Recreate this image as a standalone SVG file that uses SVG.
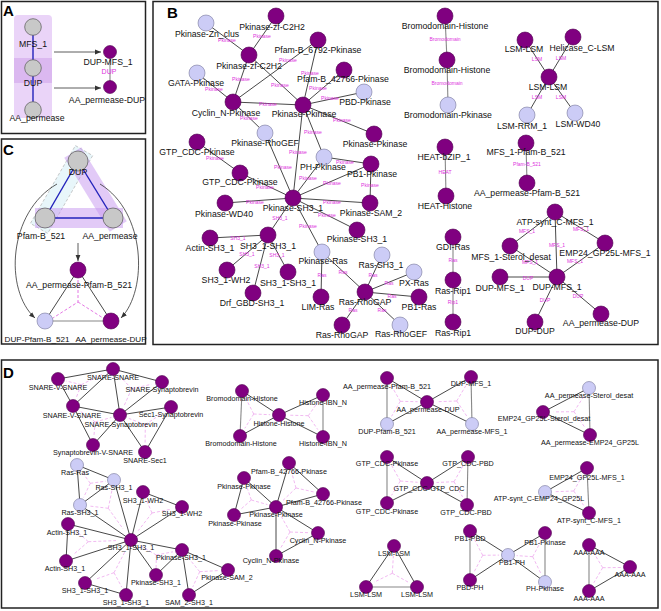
<svg xmlns="http://www.w3.org/2000/svg" width="661" height="611" viewBox="0 0 661 611">
<style>
.box{fill:none;stroke:#222;stroke-width:1.5}
.pl{font-family:"Liberation Sans",Arial,sans-serif;font-weight:bold;font-size:15px;fill:#000}
.t{font-family:"Liberation Sans",Arial,sans-serif;font-size:8.7px;text-anchor:middle;fill:#111}
.d{font-size:7.2px}
.c8{font-size:8.1px}
.el{font-family:"Liberation Sans",Arial,sans-serif;font-size:5px;text-anchor:middle;fill:#dd33dd}
.p{fill:#800080;stroke:#4d004d;stroke-width:0.6}
.l{fill:#ccccf6;stroke:#77779a;stroke-width:0.6}
.g{fill:#c8c8c8;stroke:#666;stroke-width:0.8}
.e{stroke:#333;stroke-width:0.9;fill:none}
.eg{stroke:#888;stroke-width:1.1;fill:none}
.eb{stroke:#2222bb;stroke-width:1.4;fill:none}
.y{stroke:#eea8ee;stroke-width:0.8;stroke-dasharray:3 2;fill:none}
.yc{stroke:#dd55dd;stroke-width:0.8;stroke-dasharray:3 2;fill:none}
.ar{stroke:#333;stroke-width:0.8;fill:none;marker-end:url(#arr)}
</style>
<defs>
<marker id="arr" viewBox="0 0 10 10" refX="10" refY="5" markerUnits="userSpaceOnUse" markerWidth="6" markerHeight="6" orient="auto"><path d="M0,1 L10,5 L0,9 z" fill="#333"/></marker>
</defs>
<rect width="661" height="611" fill="#fff"/>
<!-- panel frames -->
<rect class="box" x="1.5" y="1.5" width="144" height="132"/>
<rect class="box" x="1.5" y="139" width="144" height="205"/>
<rect class="box" x="153" y="1.5" width="505" height="343"/>
<rect class="box" x="1.5" y="360" width="656.5" height="248"/>
<text class="pl" x="3" y="16">A</text>
<text class="pl" x="3" y="155">C</text>
<text class="pl" x="167" y="18">B</text>
<text class="pl" x="3" y="378">D</text>

<!-- ========== PANEL A ========== -->
<g id="a-domains">
<rect x="14" y="15" width="38" height="103" rx="4" fill="#ead4f8"/>
<rect x="14" y="58" width="38" height="25" fill="#dbb8f0"/>
</g>
<g id="a-connectors">
<line class="eb" x1="33" y1="27" x2="33" y2="110"/>
<line class="ar" x1="54" y1="52" x2="101" y2="52"/>
<line class="ar" x1="54" y1="88" x2="101" y2="88"/>
<line class="eg" x1="110" y1="52" x2="110" y2="87"/>
<text class="el" style="font-size:7px" x="109" y="74">DUP</text>
</g>
<g id="a-mfs1"><circle class="g" cx="33" cy="27" r="8.3"/><text class="t" x="33" y="47">MFS_1</text></g>
<g id="a-dup"><circle class="g" cx="33" cy="68" r="8.3"/><text class="t" x="33" y="86">DUP</text></g>
<g id="a-aaperm"><circle class="g" cx="33" cy="110" r="8.3"/><text class="t" x="37" y="121">AA_permease</text></g>
<g id="a-dupmfs"><circle class="p" cx="110" cy="52" r="6.5"/><text class="t" x="108" y="65">DUP-MFS_1</text></g>
<g id="a-aadup"><circle class="p" cx="110" cy="87" r="6.5"/><text class="t" x="107" y="103">AA_permease-DUP</text></g>

<!-- ========== PANEL C ========== -->
<g id="c-domains">
<polygon points="75.4,145.6 92.7,155.6 47.7,233.4 30.4,223.4" fill="#e2f4f9" fill-opacity="0.8" stroke="#b0b0b0" stroke-width="0.7" stroke-dasharray="3 2"/>
<line x1="78" y1="161" x2="113" y2="218" stroke="#c595ef" stroke-opacity="0.5" stroke-width="20" stroke-linecap="square"/>
<line x1="45" y1="218" x2="113" y2="218" stroke="#c595ef" stroke-opacity="0.5" stroke-width="20" stroke-linecap="square"/>
</g>
<g id="c-connectors">
<line class="eb" x1="78" y1="161" x2="45" y2="218"/>
<line class="eb" x1="78" y1="161" x2="113" y2="218"/>
<line class="eb" x1="45" y1="218" x2="113" y2="218"/>
<line class="ar" x1="78" y1="243" x2="78" y2="261"/>
<path class="ar" d="M57 184 C8 212, 4 290, 35 318"/>
<path class="ar" d="M100 184 C146 212, 148 290, 121 318"/>
<line class="e" x1="78" y1="270" x2="45" y2="321"/>
<line class="e" x1="78" y1="270" x2="111" y2="321"/>
<line class="eg" x1="45" y1="321" x2="111" y2="321"/>
<path class="yc" d="M78 280 L78 302 L53 318 M78 302 L103 318"/>
</g>
<g id="c-dup"><circle class="g" cx="78" cy="161" r="10"/><text class="t" x="78" y="175">DUP</text></g>
<g id="c-pfam"><circle class="g" cx="45" cy="218" r="10"/><text class="t" x="41" y="239">Pfam-B_521</text></g>
<g id="c-aaperm"><circle class="g" cx="113" cy="218" r="10"/><text class="t" x="110" y="239">AA_permease</text></g>
<g id="c-aapfam"><circle class="p" cx="78" cy="270" r="8"/><text class="t" x="79" y="288">AA_permease-Pfam-B_521</text></g>
<g id="c-duppfam"><circle class="l" cx="45" cy="321" r="8"/><text class="t c8" x="37" y="342">DUP-Pfam-B_521</text></g>
<g id="c-aadup"><circle class="p" cx="111" cy="321" r="8"/><text class="t c8" x="111" y="342">AA_permease-DUP</text></g>

<!-- ========== PANEL B ========== -->
<g id="b-connectors">
<line class="e" x1="206" y1="23" x2="249" y2="55"/>
<line class="e" x1="276" y1="16" x2="249" y2="55"/>
<line class="e" x1="249" y1="55" x2="233" y2="102"/>
<line class="e" x1="249" y1="55" x2="303" y2="105"/>
<line class="e" x1="318" y1="40" x2="233" y2="102"/>
<line class="e" x1="318" y1="40" x2="303" y2="105"/>
<line class="e" x1="197" y1="73" x2="233" y2="102"/>
<line class="e" x1="233" y1="102" x2="303" y2="105"/>
<line class="e" x1="233" y1="102" x2="265" y2="133"/>
<line class="e" x1="303" y1="105" x2="344" y2="70"/>
<line class="e" x1="303" y1="105" x2="364" y2="92"/>
<line class="e" x1="303" y1="105" x2="374" y2="134"/>
<line class="e" x1="303" y1="105" x2="324" y2="157"/>
<line class="e" x1="303" y1="105" x2="293" y2="198"/>
<line class="e" x1="265" y1="133" x2="293" y2="198"/>
<line class="e" x1="197" y1="142" x2="240" y2="173"/>
<line class="e" x1="240" y1="173" x2="293" y2="198"/>
<line class="e" x1="293" y1="198" x2="225" y2="203"/>
<line class="e" x1="293" y1="198" x2="324" y2="157"/>
<line class="e" x1="293" y1="198" x2="371" y2="164"/>
<line class="e" x1="293" y1="198" x2="370" y2="203"/>
<line class="e" x1="293" y1="198" x2="357" y2="230"/>
<line class="e" x1="293" y1="198" x2="322" y2="252"/>
<line class="e" x1="293" y1="198" x2="268" y2="235"/>
<line class="e" x1="371" y1="164" x2="370" y2="203"/>
<line class="e" x1="324" y1="157" x2="371" y2="164"/>
<line class="e" x1="268" y1="235" x2="210" y2="238"/>
<line class="e" x1="268" y1="235" x2="227" y2="270"/>
<line class="e" x1="268" y1="235" x2="288" y2="272"/>
<line class="e" x1="268" y1="235" x2="253" y2="293"/>
<line class="e" x1="322" y1="252" x2="321" y2="297"/>
<line class="e" x1="322" y1="252" x2="365" y2="292"/>
<line class="e" x1="365" y1="292" x2="382" y2="255"/>
<line class="e" x1="365" y1="292" x2="414" y2="272"/>
<line class="e" x1="365" y1="292" x2="419" y2="297"/>
<line class="e" x1="365" y1="292" x2="400" y2="325"/>
<line class="e" x1="365" y1="292" x2="342" y2="325"/>
<line class="eg" x1="445" y1="16" x2="447" y2="60"/>
<line class="eg" x1="447" y1="60" x2="448" y2="105"/>
<line class="eg" x1="445" y1="147" x2="446" y2="196"/>
<line class="eg" x1="453" y1="237" x2="453" y2="280"/>
<line class="eg" x1="453" y1="280" x2="453" y2="322"/>
<line class="e" x1="525" y1="40" x2="549" y2="77"/>
<line class="e" x1="573" y1="37" x2="549" y2="77"/>
<line class="e" x1="549" y1="77" x2="527" y2="115"/>
<line class="e" x1="549" y1="77" x2="575" y2="113"/>
<line class="eg" x1="526" y1="143" x2="527" y2="183"/>
<line class="e" x1="555" y1="212" x2="510" y2="246"/>
<line class="e" x1="555" y1="212" x2="605" y2="243"/>
<line class="e" x1="555" y1="212" x2="557" y2="277"/>
<line class="e" x1="510" y1="246" x2="557" y2="277"/>
<line class="e" x1="605" y1="243" x2="557" y2="277"/>
<line class="e" x1="500" y1="277" x2="557" y2="277"/>
<line class="e" x1="557" y1="277" x2="535" y2="322"/>
<line class="e" x1="557" y1="277" x2="601" y2="314"/>
<!-- edge labels -->
<text class="el" x="227" y="42">Pkinase</text>
<text class="el" x="262" y="38">Pkinase</text>
<text class="el" x="241" y="81">Pkinase</text>
<text class="el" x="280" y="87">Pkinase</text>
<text class="el" x="288" y="62">Pkinase</text>
<text class="el" x="310" y="75">Pkinase</text>
<text class="el" x="214" y="91">Pkinase</text>
<text class="el" x="268" y="106">Pkinase</text>
<text class="el" x="249" y="120">Pkinase</text>
<text class="el" x="318" y="90">Pkinase</text>
<text class="el" x="330" y="100">Pkinase</text>
<text class="el" x="342" y="122">Pkinase</text>
<text class="el" x="313" y="134">Pkinase</text>
<text class="el" x="298" y="154">Pkinase</text>
<text class="el" x="283" y="169">Pkinase</text>
<text class="el" x="215" y="160">Pkinase</text>
<text class="el" x="265" y="189">Pkinase</text>
<text class="el" x="255" y="204">Pkinase</text>
<text class="el" x="308" y="180">Pkinase</text>
<text class="el" x="332" y="185">Pkinase</text>
<text class="el" x="332" y="204">Pkinase</text>
<text class="el" x="327" y="217">Pkinase</text>
<text class="el" x="308" y="228">Pkinase</text>
<text class="el" x="370" y="187">Pkinase</text>
<text class="el" x="345" y="164">Pkinase</text>
<text class="el" x="280" y="220">SH3_1</text>
<text class="el" x="238" y="240">SH3_1</text>
<text class="el" x="247" y="256">SH3_1</text>
<text class="el" x="277" y="257">SH3_1</text>
<text class="el" x="262" y="268">SH3_1</text>
<text class="el" x="322" y="277">Ras</text>
<text class="el" x="343" y="274">Ras</text>
<text class="el" x="373" y="277">Ras</text>
<text class="el" x="389" y="285">Ras</text>
<text class="el" x="392" y="298">Ras</text>
<text class="el" x="382" y="312">Ras</text>
<text class="el" x="353" y="312">Ras</text>
<text class="el" x="445" y="41">Bromodomain</text>
<text class="el" x="447" y="85">Bromodomain</text>
<text class="el" x="445" y="174">HEAT</text>
<text class="el" x="453" y="262">Ras</text>
<text class="el" x="453" y="304">Rip1</text>
<text class="el" x="537" y="61">LSM</text>
<text class="el" x="561" y="60">LSM</text>
<text class="el" x="537" y="99">LSM</text>
<text class="el" x="561" y="99">LSM</text>
<text class="el" x="527" y="166">Pfam-B_521</text>
<text class="el" x="527" y="233">MFS_1</text>
<text class="el" x="581" y="231">MFS_1</text>
<text class="el" x="557" y="247">MFS_1</text>
<text class="el" x="530" y="264">MFS_1</text>
<text class="el" x="575" y="263">MFS_1</text>
<text class="el" x="528" y="280">DUP</text>
<text class="el" x="545" y="302">DUP</text>
<text class="el" x="578" y="298">DUP</text>
</g>
<g id="b01"><circle class="l" cx="206" cy="23" r="8"/><text class="t" x="207" y="37">Pkinase-Zn_clus</text></g>
<g id="b02"><circle class="p" cx="276" cy="16" r="8"/><text class="t" x="272" y="30">Pkinase-zf-C2H2</text></g>
<g id="b03"><circle class="p" cx="249" cy="55" r="8"/><text class="t" x="249" y="69">Pkinase-zf-C2H2</text></g>
<g id="b04"><circle class="p" cx="318" cy="40" r="8"/><text class="t" x="318" y="53">Pfam-B_6792-Pkinase</text></g>
<g id="b05"><circle class="l" cx="197" cy="73" r="8"/><text class="t" x="196" y="86">GATA-Pkinase</text></g>
<g id="b06"><circle class="p" cx="233" cy="102" r="8"/><text class="t" x="226" y="116">Cyclin_N-Pkinase</text></g>
<g id="b07"><circle class="p" cx="303" cy="105" r="8"/><text class="t" x="304" y="117">Pkinase-Pkinase</text></g>
<g id="b08"><circle class="p" cx="344" cy="70" r="8"/><text class="t" x="343" y="82">Pfam-B_42766-Pkinase</text></g>
<g id="b09"><circle class="l" cx="364" cy="92" r="8"/><text class="t" x="365" y="105">PBD-Pkinase</text></g>
<g id="b10"><circle class="p" cx="374" cy="134" r="8"/><text class="t" x="375" y="147">Pkinase-Pkinase</text></g>
<g id="b11"><circle class="l" cx="265" cy="133" r="8"/><text class="t" x="265" y="146">Pkinase-RhoGEF</text></g>
<g id="b12"><circle class="p" cx="197" cy="142" r="8"/><text class="t" x="197" y="155">GTP_CDC-Pkinase</text></g>
<g id="b13"><circle class="l" cx="324" cy="157" r="8"/><text class="t" x="323" y="170">PH-Pkinase</text></g>
<g id="b14"><circle class="p" cx="371" cy="164" r="8"/><text class="t" x="372" y="177">PB1-Pkinase</text></g>
<g id="b15"><circle class="p" cx="240" cy="173" r="8"/><text class="t" x="240" y="185">GTP_CDC-Pkinase</text></g>
<g id="b16"><circle class="p" cx="293" cy="198" r="8"/><text class="t" x="293" y="211">Pkinase-SH3_1</text></g>
<g id="b17"><circle class="p" cx="225" cy="203" r="8"/><text class="t" x="224" y="217">Pkinase-WD40</text></g>
<g id="b18"><circle class="p" cx="370" cy="203" r="8"/><text class="t" x="371" y="216">Pkinase-SAM_2</text></g>
<g id="b19"><circle class="p" cx="357" cy="230" r="8"/><text class="t" x="357" y="242">Pkinase-SH3_1</text></g>
<g id="b20"><circle class="p" cx="268" cy="235" r="8"/><text class="t" x="268" y="249">SH3_1-SH3_1</text></g>
<g id="b21"><circle class="p" cx="210" cy="238" r="8"/><text class="t" x="210" y="251">Actin-SH3_1</text></g>
<g id="b22"><circle class="l" cx="322" cy="252" r="8"/><text class="t" x="323" y="264">Pkinase-Ras</text></g>
<g id="b23"><circle class="p" cx="227" cy="270" r="8"/><text class="t" x="226" y="283">SH3_1-WH2</text></g>
<g id="b24"><circle class="p" cx="288" cy="272" r="8"/><text class="t" x="288" y="286">SH3_1-SH3_1</text></g>
<g id="b25"><circle class="p" cx="253" cy="293" r="8"/><text class="t" x="252" y="306">Drf_GBD-SH3_1</text></g>
<g id="b26"><circle class="p" cx="321" cy="297" r="8"/><text class="t" x="318" y="310">LIM-Ras</text></g>
<g id="b27"><circle class="p" cx="342" cy="325" r="8"/><text class="t" x="342" y="338">Ras-RhoGAP</text></g>
<g id="b28"><circle class="p" cx="365" cy="292" r="8"/><text class="t" x="365" y="305">Ras-RhoGAP</text></g>
<g id="b29"><circle class="l" cx="382" cy="255" r="8"/><text class="t" x="381" y="268">Ras-SH3_1</text></g>
<g id="b30"><circle class="l" cx="414" cy="272" r="8"/><text class="t" x="414" y="286">PX-Ras</text></g>
<g id="b31"><circle class="p" cx="419" cy="297" r="8"/><text class="t" x="419" y="310">PB1-Ras</text></g>
<g id="b32"><circle class="l" cx="400" cy="325" r="8"/><text class="t" x="401" y="337">Ras-RhoGEF</text></g>
<g id="b33"><circle class="p" cx="445" cy="16" r="8"/><text class="t" x="445" y="29">Bromodomain-Histone</text></g>
<g id="b34"><circle class="p" cx="447" cy="60" r="8"/><text class="t" x="447" y="73">Bromodomain-Histone</text></g>
<g id="b35"><circle class="l" cx="448" cy="105" r="8"/><text class="t" x="448" y="118">Bromodomain-Pkinase</text></g>
<g id="b36"><circle class="p" cx="445" cy="147" r="8"/><text class="t" x="444" y="160">HEAT-bZIP_1</text></g>
<g id="b37"><circle class="p" cx="446" cy="196" r="8"/><text class="t" x="445" y="209">HEAT-Histone</text></g>
<g id="b38"><circle class="p" cx="525" cy="40" r="8"/><text class="t" x="524" y="52">LSM-LSM</text></g>
<g id="b39"><circle class="p" cx="573" cy="37" r="8"/><text class="t" x="582" y="51">Helicase_C-LSM</text></g>
<g id="b40"><circle class="p" cx="549" cy="77" r="8"/><text class="t" x="548" y="90">LSM-LSM</text></g>
<g id="b41"><circle class="l" cx="527" cy="115" r="8"/><text class="t" x="522" y="129">LSM-RRM_1</text></g>
<g id="b42"><circle class="l" cx="575" cy="113" r="8"/><text class="t" x="578" y="127">LSM-WD40</text></g>
<g id="b43"><circle class="p" cx="526" cy="143" r="8"/><text class="t" x="526" y="155">MFS_1-Pfam-B_521</text></g>
<g id="b44"><circle class="p" cx="527" cy="183" r="8"/><text class="t" x="527" y="196">AA_permease-Pfam-B_521</text></g>
<g id="b45"><circle class="p" cx="555" cy="212" r="8"/><text class="t" x="555" y="225">ATP-synt_C-MFS_1</text></g>
<g id="b46"><circle class="p" cx="510" cy="246" r="8"/><text class="t" x="511" y="260">MFS_1-Sterol_desat</text></g>
<g id="b47"><circle class="p" cx="605" cy="243" r="8"/><text class="t" x="605" y="256">EMP24_GP25L-MFS_1</text></g>
<g id="b48"><circle class="p" cx="500" cy="277" r="8"/><text class="t" x="500" y="291">DUP-MFS_1</text></g>
<g id="b49"><circle class="p" cx="557" cy="277" r="8"/><text class="t" x="557" y="290">DUP-MFS_1</text></g>
<g id="b50"><circle class="p" cx="535" cy="322" r="8"/><text class="t" x="535" y="334">DUP-DUP</text></g>
<g id="b51"><circle class="p" cx="601" cy="314" r="8"/><text class="t" x="601" y="326">AA_permease-DUP</text></g>
<g id="b52"><circle class="p" cx="453" cy="237" r="8"/><text class="t" x="453" y="250">GDI-Ras</text></g>
<g id="b53"><circle class="p" cx="453" cy="280" r="8"/><text class="t" x="453" y="294">Ras-Rip1</text></g>
<g id="b54"><circle class="p" cx="453" cy="322" r="8"/><text class="t" x="453" y="336">Ras-Rip1</text></g>

<!-- ========== PANEL D ========== -->
<g id="d-connectors">
<path class="y" d="M81.3 384.7L66.2 381M81.3 384.7L101.9 374.5M81.3 384.7L75.9 398.5"/>
<path class="y" d="M131.7 388.7L119.5 375.9M131.7 388.7L151.4 384.3M131.7 388.7L124.1 405.8"/>
<path class="y" d="M95.3 422L80.8 411.6M95.3 422L111.4 417.4M95.3 422L93.8 437"/>
<path class="y" d="M145.3 424.7L128.8 418.4M145.3 424.7L162.2 413.2M145.3 424.7L145.1 442.5"/>
<path class="y" d="M253.7 414L246.1 399M253.7 414L244.8 428.3M253.7 414L270.1 414.7"/>
<path class="y" d="M308.3 415.7L289.2 415.2M308.3 415.7L317.8 402.3M308.3 415.7L317.8 429.6"/>
<path class="y" d="M400.3 401.3L391.6 386.1M400.3 401.3L417.6 401.7M400.3 401.3L391.6 416.3"/>
<path class="y" d="M456.7 401L437.4 401.7M456.7 401L466 385.4M456.7 401L466.7 416"/>
<path class="y" d="M574 411.7L583.8 396.3M574 411.7L553.8 411.9M574 411.7L584.4 426.8"/>
<path class="y" d="M90.3 483.3L81.6 471.4M90.3 483.3L105.7 481.2M90.3 483.3L83.6 497.4"/>
<path class="y" d="M108.3 508.3L112 489.9M108.3 508.3L89.9 506.1M108.3 508.3L123.1 528.9"/>
<path class="y" d="M152 513L146.1 499.3M152 513L171.5 509.1M152 513L138.3 530.6"/>
<path class="y" d="M88.3 541.7L75.1 530.2M88.3 541.7L116 540.6M88.3 541.7L73.8 554.2"/>
<path class="y" d="M156.3 555L139.8 545.3M156.3 555L173 551.8M156.3 555L156.1 568"/>
<path class="y" d="M114 572.7L125.1 551.4M114 572.7L95.1 579.4M114 572.7L121.8 587.2"/>
<path class="y" d="M199.7 571.7L188.2 557.6M199.7 571.7L192.8 586.9M199.7 571.7L218.1 570.6"/>
<path class="y" d="M296 488L291.5 471.8M296 488L283 500.4M296 488L313.6 491.9"/>
<path class="y" d="M251.3 500L246.5 485.7M251.3 500L267.4 504.6M251.3 500L240.1 509.8"/>
<path class="y" d="M290 532L280.9 515.8M290 532L308.2 532.7M290 532L280.9 547.6"/>
<path class="y" d="M400.3 481L391.6 465.4M400.3 481L417.6 482.3M400.3 481L391.6 495.3"/>
<path class="y" d="M454 481.7L436.5 482.5M454 481.7L463.1 465.6M454 481.7L462.5 496.8"/>
<path class="y" d="M573.7 491L582.3 476.1M573.7 491L555.1 491.7M573.7 491L583.6 505.3"/>
<path class="y" d="M392.3 573.3L393.4 555.6M392.3 573.3L374.1 582.2M392.3 573.3L408.3 582.2"/>
<path class="y" d="M482.7 555.3L474.4 539.5M482.7 555.3L499.1 555.1M482.7 555.3L474.4 571.4"/>
<path class="y" d="M532.7 556.7L516.6 555.6M532.7 556.7L540.7 541.6M532.7 556.7L540.7 573.2"/>
<path class="y" d="M602.7 567.7L593.8 553M602.7 567.7L620.9 567.5M602.7 567.7L593.8 582.8"/>
<line class="e" x1="58" y1="379" x2="113" y2="369"/>
<line class="e" x1="58" y1="379" x2="73" y2="406"/>
<line class="e" x1="113" y1="369" x2="73" y2="406"/>
<line class="e" x1="113" y1="369" x2="162" y2="382"/>
<line class="e" x1="113" y1="369" x2="120" y2="415"/>
<line class="e" x1="162" y1="382" x2="120" y2="415"/>
<line class="e" x1="73" y1="406" x2="120" y2="415"/>
<line class="e" x1="73" y1="406" x2="93" y2="445"/>
<line class="e" x1="120" y1="415" x2="93" y2="445"/>
<line class="e" x1="120" y1="415" x2="171" y2="407"/>
<line class="e" x1="120" y1="415" x2="145" y2="452"/>
<line class="e" x1="171" y1="407" x2="145" y2="452"/>
<line class="eg" x1="242" y1="391" x2="240" y2="436"/>
<line class="e" x1="242" y1="391" x2="279" y2="415"/>
<line class="e" x1="240" y1="436" x2="279" y2="415"/>
<line class="e" x1="279" y1="415" x2="323" y2="395"/>
<line class="e" x1="279" y1="415" x2="323" y2="437"/>
<line class="eg" x1="323" y1="395" x2="323" y2="437"/>
<line class="eg" x1="387" y1="378" x2="387" y2="424"/>
<line class="e" x1="387" y1="378" x2="427" y2="402"/>
<line class="e" x1="387" y1="424" x2="427" y2="402"/>
<line class="e" x1="427" y1="402" x2="471" y2="377"/>
<line class="e" x1="427" y1="402" x2="472" y2="424"/>
<line class="eg" x1="471" y1="377" x2="472" y2="424"/>
<line class="e" x1="589" y1="388" x2="543" y2="412"/>
<line class="eg" x1="589" y1="388" x2="590" y2="435"/>
<line class="e" x1="543" y1="412" x2="590" y2="435"/>
<line class="e" x1="77" y1="465" x2="114" y2="480"/>
<line class="e" x1="77" y1="465" x2="80" y2="505"/>
<line class="e" x1="114" y1="480" x2="80" y2="505"/>
<line class="e" x1="114" y1="480" x2="131" y2="540"/>
<line class="e" x1="80" y1="505" x2="131" y2="540"/>
<line class="e" x1="143" y1="492" x2="182" y2="507"/>
<line class="e" x1="143" y1="492" x2="131" y2="540"/>
<line class="e" x1="182" y1="507" x2="131" y2="540"/>
<line class="e" x1="68" y1="524" x2="131" y2="540"/>
<line class="e" x1="68" y1="524" x2="66" y2="561"/>
<line class="e" x1="66" y1="561" x2="131" y2="540"/>
<line class="e" x1="131" y1="540" x2="182" y2="550"/>
<line class="e" x1="131" y1="540" x2="156" y2="575"/>
<line class="e" x1="182" y1="550" x2="156" y2="575"/>
<line class="e" x1="131" y1="540" x2="85" y2="583"/>
<line class="e" x1="131" y1="540" x2="126" y2="595"/>
<line class="e" x1="85" y1="583" x2="126" y2="595"/>
<line class="e" x1="182" y1="550" x2="189" y2="595"/>
<line class="e" x1="182" y1="550" x2="228" y2="570"/>
<line class="e" x1="189" y1="595" x2="228" y2="570"/>
<line class="e" x1="289" y1="463" x2="276" y2="507"/>
<line class="e" x1="289" y1="463" x2="323" y2="494"/>
<line class="e" x1="323" y1="494" x2="276" y2="507"/>
<line class="e" x1="244" y1="478" x2="276" y2="507"/>
<line class="e" x1="244" y1="478" x2="234" y2="515"/>
<line class="e" x1="234" y1="515" x2="276" y2="507"/>
<line class="e" x1="276" y1="507" x2="318" y2="533"/>
<line class="e" x1="276" y1="507" x2="276" y2="556"/>
<line class="e" x1="318" y1="533" x2="276" y2="556"/>
<line class="eg" x1="387" y1="457" x2="387" y2="503"/>
<line class="e" x1="387" y1="457" x2="427" y2="483"/>
<line class="e" x1="387" y1="503" x2="427" y2="483"/>
<line class="e" x1="427" y1="483" x2="468" y2="457"/>
<line class="e" x1="427" y1="483" x2="467" y2="505"/>
<line class="eg" x1="468" y1="457" x2="467" y2="505"/>
<line class="e" x1="587" y1="468" x2="545" y2="492"/>
<line class="eg" x1="587" y1="468" x2="589" y2="513"/>
<line class="e" x1="545" y1="492" x2="589" y2="513"/>
<line class="e" x1="394" y1="546" x2="366" y2="587"/>
<line class="e" x1="394" y1="546" x2="417" y2="587"/>
<line class="eg" x1="366" y1="587" x2="417" y2="587"/>
<line class="eg" x1="470" y1="531" x2="470" y2="580"/>
<line class="e" x1="470" y1="531" x2="508" y2="555"/>
<line class="e" x1="470" y1="580" x2="508" y2="555"/>
<line class="e" x1="508" y1="555" x2="545" y2="533"/>
<line class="e" x1="508" y1="555" x2="545" y2="582"/>
<line class="eg" x1="545" y1="533" x2="545" y2="582"/>
<line class="e" x1="589" y1="545" x2="630" y2="567"/>
<line class="eg" x1="589" y1="545" x2="589" y2="591"/>
<line class="e" x1="630" y1="567" x2="589" y2="591"/>
</g>
<g id="d-s1"><circle class="p" cx="58" cy="379" r="6.5"/><text class="t d" x="58" y="390">SNARE-V-SNARE</text></g>
<g id="d-s2"><circle class="p" cx="113" cy="369" r="6.5"/><text class="t d" x="113" y="380">SNARE-SNARE</text></g>
<g id="d-s3"><circle class="p" cx="162" cy="382" r="6.5"/><text class="t d" x="162" y="392">SNARE-Synaptobrevin</text></g>
<g id="d-s4"><circle class="p" cx="73" cy="406" r="6.5"/><text class="t d" x="72" y="418">SNARE-V-SNARE</text></g>
<g id="d-s5"><circle class="p" cx="120" cy="415" r="6.5"/><text class="t d" x="121" y="427">SNARE-Synaptobrevin</text></g>
<g id="d-s6"><circle class="p" cx="171" cy="407" r="6.5"/><text class="t d" x="171" y="417">Sec1-Synaptobrevin</text></g>
<g id="d-s7"><circle class="p" cx="93" cy="445" r="6.5"/><text class="t d" x="93" y="455">Synaptobrevin-V-SNARE</text></g>
<g id="d-s8"><circle class="p" cx="145" cy="452" r="6.5"/><text class="t d" x="145" y="463">SNARE-Sec1</text></g>
<g id="d-h1"><circle class="p" cx="242" cy="391" r="6.5"/><text class="t d" x="242" y="401">Bromodomain-Histone</text></g>
<g id="d-h2"><circle class="p" cx="240" cy="436" r="6.5"/><text class="t d" x="241" y="446">Bromodomain-Histone</text></g>
<g id="d-h3"><circle class="p" cx="279" cy="415" r="6.5"/><text class="t d" x="279" y="426">Histone-Histone</text></g>
<g id="d-h4"><circle class="p" cx="323" cy="395" r="6.5"/><text class="t d" x="323" y="405">Histone-IBN_N</text></g>
<g id="d-h5"><circle class="p" cx="323" cy="437" r="6.5"/><text class="t d" x="323" y="446">Histone-IBN_N</text></g>
<g id="d-a1"><circle class="p" cx="387" cy="378" r="6.5"/><text class="t d" x="387" y="389">AA_permease-Pfam-B_521</text></g>
<g id="d-a2"><circle class="p" cx="427" cy="402" r="6.5"/><text class="t d" x="428" y="412">AA_permease-DUP</text></g>
<g id="d-a3"><circle class="l" cx="387" cy="424" r="6.5"/><text class="t d" x="387" y="434">DUP-Pfam-B_521</text></g>
<g id="d-a4"><circle class="p" cx="471" cy="377" r="6.5"/><text class="t d" x="471" y="386">DUP-MFS_1</text></g>
<g id="d-a5"><circle class="l" cx="472" cy="424" r="6.5"/><text class="t d" x="472" y="434">AA_permease-MFS_1</text></g>
<g id="d-t1"><circle class="l" cx="589" cy="388" r="6.5"/><text class="t d" x="589" y="398">AA_permease-Sterol_desat</text></g>
<g id="d-t2"><circle class="p" cx="543" cy="412" r="6.5"/><text class="t d" x="544" y="421">EMP24_GP25L-Sterol_desat</text></g>
<g id="d-t3"><circle class="p" cx="590" cy="435" r="6.5"/><text class="t d" x="590" y="445">AA_permease-EMP24_GP25L</text></g>
<g id="d-r1"><circle class="l" cx="77" cy="465" r="6.5"/><text class="t d" x="75" y="475">Ras-Ras</text></g>
<g id="d-r2"><circle class="l" cx="114" cy="480" r="6.5"/><text class="t d" x="114" y="490">Ras-SH3_1</text></g>
<g id="d-r3"><circle class="l" cx="80" cy="505" r="6.5"/><text class="t d" x="80" y="515">Ras-SH3_1</text></g>
<g id="d-r4"><circle class="p" cx="143" cy="492" r="6.5"/><text class="t d" x="143" y="503">SH3_1-WH2</text></g>
<g id="d-r5"><circle class="p" cx="182" cy="507" r="6.5"/><text class="t d" x="182" y="516">SH3_1-WH2</text></g>
<g id="d-r6"><circle class="p" cx="68" cy="524" r="6.5"/><text class="t d" x="67" y="535">Actin-SH3_1</text></g>
<g id="d-r7"><circle class="p" cx="131" cy="540" r="6.5"/><text class="t d" x="131" y="550">SH3_1-SH3_1</text></g>
<g id="d-r8"><circle class="p" cx="66" cy="561" r="6.5"/><text class="t d" x="65" y="571">Actin-SH3_1</text></g>
<g id="d-r9"><circle class="p" cx="182" cy="550" r="6.5"/><text class="t d" x="181" y="560">Pkinase-SH3_1</text></g>
<g id="d-r10"><circle class="p" cx="156" cy="575" r="6.5"/><text class="t d" x="156" y="585">Pkinase-SH3_1</text></g>
<g id="d-r11"><circle class="p" cx="85" cy="583" r="6.5"/><text class="t d" x="85" y="593">SH3_1-SH3_1</text></g>
<g id="d-r12"><circle class="p" cx="126" cy="595" r="6.5"/><text class="t d" x="126" y="605">SH3_1-SH3_1</text></g>
<g id="d-r13"><circle class="p" cx="189" cy="595" r="6.5"/><text class="t d" x="189" y="605">SAM_2-SH3_1</text></g>
<g id="d-r14"><circle class="p" cx="228" cy="570" r="6.5"/><text class="t d" x="227" y="580">Pkinase-SAM_2</text></g>
<g id="d-k1"><circle class="p" cx="289" cy="463" r="6.5"/><text class="t d" x="289" y="474">Pfam-B_42766-Pkinase</text></g>
<g id="d-k2"><circle class="p" cx="244" cy="478" r="6.5"/><text class="t d" x="244" y="489">Pkinase-Pkinase</text></g>
<g id="d-k3"><circle class="p" cx="276" cy="507" r="6.5"/><text class="t d" x="276" y="517">Pkinase-Pkinase</text></g>
<g id="d-k4"><circle class="p" cx="234" cy="515" r="6.5"/><text class="t d" x="235" y="526">Pkinase-Pkinase</text></g>
<g id="d-k5"><circle class="p" cx="323" cy="494" r="6.5"/><text class="t d" x="324" y="505">Pfam-B_42766-Pkinase</text></g>
<g id="d-k6"><circle class="p" cx="318" cy="533" r="6.5"/><text class="t d" x="318" y="543">Cyclin_N-Pkinase</text></g>
<g id="d-k7"><circle class="p" cx="276" cy="556" r="6.5"/><text class="t d" x="271" y="563">Cyclin_N-Pkinase</text></g>
<g id="d-g1"><circle class="p" cx="387" cy="457" r="6.5"/><text class="t d" x="387" y="466">GTP_CDC-Pkinase</text></g>
<g id="d-g2"><circle class="p" cx="427" cy="483" r="6.5"/><text class="t d" x="429" y="491">GTP_CDC-GTP_CDC</text></g>
<g id="d-g3"><circle class="p" cx="387" cy="503" r="6.5"/><text class="t d" x="387" y="514">GTP_CDC-Pkinase</text></g>
<g id="d-g4"><circle class="p" cx="468" cy="457" r="6.5"/><text class="t d" x="468" y="466">GTP_CDC-PBD</text></g>
<g id="d-g5"><circle class="p" cx="467" cy="505" r="6.5"/><text class="t d" x="466" y="515">GTP_CDC-PBD</text></g>
<g id="d-m1"><circle class="p" cx="587" cy="468" r="6.5"/><text class="t d" x="587" y="480">EMP24_GP25L-MFS_1</text></g>
<g id="d-m2"><circle class="l" cx="545" cy="492" r="6.5"/><text class="t d" x="539" y="501">ATP-synt_C-EMP24_GP25L</text></g>
<g id="d-m3"><circle class="p" cx="589" cy="513" r="6.5"/><text class="t d" x="589" y="523">ATP-synt_C-MFS_1</text></g>
<g id="d-n1"><circle class="p" cx="394" cy="546" r="6.5"/><text class="t d" x="394" y="556">LSM-LSM</text></g>
<g id="d-n2"><circle class="p" cx="366" cy="587" r="6.5"/><text class="t d" x="366" y="597">LSM-LSM</text></g>
<g id="d-n3"><circle class="p" cx="417" cy="587" r="6.5"/><text class="t d" x="417" y="597">LSM-LSM</text></g>
<g id="d-p1"><circle class="p" cx="470" cy="531" r="6.5"/><text class="t d" x="470" y="541">PB1-PBD</text></g>
<g id="d-p2"><circle class="l" cx="508" cy="555" r="6.5"/><text class="t d" x="512" y="565">PB1-PH</text></g>
<g id="d-p3"><circle class="p" cx="470" cy="580" r="6.5"/><text class="t d" x="470" y="590">PBD-PH</text></g>
<g id="d-p4"><circle class="p" cx="545" cy="533" r="6.5"/><text class="t d" x="545" y="545">PB1-Pkinase</text></g>
<g id="d-p5"><circle class="l" cx="545" cy="582" r="6.5"/><text class="t d" x="545" y="591">PH-Pkinase</text></g>
<g id="d-q1"><circle class="p" cx="589" cy="545" r="6.5"/><text class="t d" x="589" y="555">AAA-AAA</text></g>
<g id="d-q2"><circle class="p" cx="630" cy="567" r="6.5"/><text class="t d" x="630" y="577">AAA-AAA</text></g>
<g id="d-q3"><circle class="p" cx="589" cy="591" r="6.5"/><text class="t d" x="589" y="601">AAA-AAA</text></g>
</svg>
